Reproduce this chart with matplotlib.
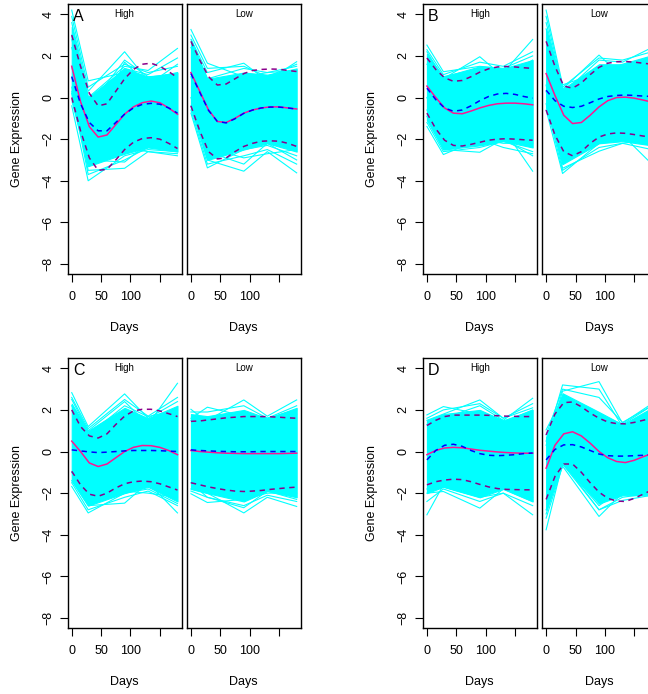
import numpy as np
import matplotlib.pyplot as plt

plt.rcParams['font.family'] = ['Liberation Sans', 'DejaVu Sans']

# sampling days of the gene profiles and days where the smooth curves were read
days = [0, 28, 90, 130, 180]
curve_days = [0, 15, 30, 45, 60, 75, 90, 105, 120, 135, 150, 165, 180]

# ---- panel A ----
a_high_core_hi = [3.4, 0.0, 1.4, 1.0, 1.2]
a_high_core_lo = [-0.2, -3.3, -2.7, -2.4, -2.6]
a_high_lines = [[4.2, 0.8, 1.2, 0.9, 1.2], [3.6, 0.3, 2.2, 0.8, 1.0],
                [3.0, 0.0, 1.5, 1.3, 2.36], [2.8, -0.2, 1.4, 1.1, 1.9],
                [1.5, -2.2, 1.7, 0.6, 1.6], [-0.4, -4.0, -2.8, -2.5, -2.6],
                [0.5, -3.5, -3.4, -2.6, -2.8], [0.2, -3.3, -2.4, -2.6, -2.7],
                [3.9, 0.5, 1.6, 1.2, 1.5], [2.4, -0.5, 1.8, 1.0, 1.1],
                [0.3, -3.7, -3.0, -2.4, -2.5], [1.0, -3.0, -3.1, -2.2, -2.4]]
a_high_mean = [1.5, -0.2, -1.4, -1.9, -1.8, -1.3, -0.8, -0.45, -0.25, -0.17, -0.25, -0.5, -0.8]
a_high_med = [1.0, -0.3, -1.2, -1.6, -1.6, -1.2, -0.8, -0.5, -0.33, -0.28, -0.32, -0.5, -0.75]
a_high_upper = [3.0, 1.5, 0.2, -0.4, -0.3, 0.3, 0.9, 1.35, 1.6, 1.65, 1.5, 1.25, 0.95]
a_high_lower = [0.0, -1.6, -2.9, -3.5, -3.45, -3.0, -2.5, -2.15, -1.97, -1.93, -2.0, -2.2, -2.45]

a_low_core_hi = [2.8, 0.9, 1.2, 1.1, 1.4]
a_low_core_lo = [-0.5, -3.0, -2.5, -2.2, -2.6]
a_low_lines = [[3.27, 1.65, 1.0, 1.2, 1.5], [2.8, 1.2, 1.65, 0.8, 1.72],
               [2.4, 0.9, 1.4, 1.2, 1.3], [-0.75, -3.38, -2.5, -2.3, -2.8],
               [-0.4, -3.0, -3.54, -2.6, -3.62], [0.0, -2.6, -3.2, -2.2, -3.0],
               [1.0, -2.4, -2.9, -2.7, -2.5], [3.0, 1.4, 1.5, 1.0, 1.6],
               [-0.6, -3.2, -2.8, -2.5, -3.2]]
a_low_mean = [1.2, 0.3, -0.6, -1.15, -1.2, -1.0, -0.75, -0.6, -0.5, -0.45, -0.45, -0.5, -0.55]
a_low_med = [1.15, 0.25, -0.62, -1.15, -1.22, -1.02, -0.76, -0.6, -0.5, -0.46, -0.46, -0.5, -0.56]
a_low_upper = [2.7, 1.8, 1.0, 0.6, 0.65, 0.9, 1.15, 1.3, 1.35, 1.37, 1.36, 1.3, 1.25]
a_low_lower = [-0.4, -1.6, -2.6, -2.95, -2.9, -2.6, -2.35, -2.2, -2.1, -2.08, -2.1, -2.2, -2.35]

# ---- panel B ----
b_high_core_hi = [2.1, 1.0, 1.5, 1.4, 1.8]
b_high_core_lo = [-1.1, -2.5, -2.3, -2.1, -2.4]
b_high_lines = [[2.52, 1.24, 1.5, 1.4, 2.0], [2.2, 0.9, 1.96, 1.0, 1.8],
                [1.6, 1.0, 1.4, 1.2, 2.79], [-1.39, -2.74, -2.0, -2.2, -2.2],
                [-0.9, -2.5, -2.63, -2.0, -2.8], [-0.6, -2.0, -2.3, -1.5, -3.54],
                [0.0, -2.3, -2.0, -2.4, -2.7], [2.3, 1.1, 1.7, 1.5, 2.2],
                [-1.2, -2.6, -2.4, -2.1, -2.6]]
b_high_mean = [0.55, 0.0, -0.5, -0.75, -0.78, -0.65, -0.5, -0.38, -0.3, -0.27, -0.27, -0.3, -0.35]
b_high_med = [0.45, -0.1, -0.5, -0.66, -0.6, -0.4, -0.15, 0.05, 0.17, 0.2, 0.15, 0.05, -0.03]
b_high_upper = [1.9, 1.35, 0.95, 0.78, 0.82, 1.0, 1.22, 1.38, 1.47, 1.49, 1.47, 1.43, 1.4]
b_high_lower = [-0.75, -1.5, -2.05, -2.3, -2.33, -2.25, -2.15, -2.05, -2.0, -1.98, -2.0, -2.03, -2.05]

b_low_core_hi = [3.3, 0.4, 1.6, 1.6, 2.0]
b_low_core_lo = [-0.5, -3.2, -2.2, -2.1, -2.3]
b_low_lines = [[4.2, 0.61, 1.2, 1.6, 2.0], [3.6, 0.4, 2.04, 1.0, 1.6],
               [3.3, 0.2, 1.8, 1.7, 2.4], [-0.6, -3.65, -2.2, -2.0, -2.3],
               [0.3, -3.4, -2.58, -2.2, -2.0], [0.6, -3.2, -2.0, -1.8, -3.2],
               [3.9, 0.5, 1.9, 1.8, 2.2], [-0.3, -3.5, -2.4, -2.2, -2.5]]
b_low_mean = [1.15, 0.1, -0.85, -1.25, -1.2, -0.85, -0.45, -0.15, 0.0, 0.02, -0.03, -0.12, -0.22]
b_low_med = [0.35, -0.15, -0.42, -0.48, -0.42, -0.25, -0.07, 0.05, 0.1, 0.12, 0.1, 0.07, 0.05]
b_low_upper = [2.7, 1.5, 0.55, 0.45, 0.7, 1.1, 1.45, 1.65, 1.72, 1.73, 1.7, 1.65, 1.6]
b_low_lower = [-0.6, -1.8, -2.6, -2.8, -2.6, -2.2, -1.9, -1.75, -1.7, -1.72, -1.78, -1.85, -1.9]

# ---- panel C ----
c_high_core_hi = [2.3, 1.0, 2.1, 1.6, 2.2]
c_high_core_lo = [-1.4, -2.6, -2.0, -1.7, -2.4]
c_high_lines = [[2.83, 1.2, 2.77, 1.6, 2.4], [2.5, 1.0, 2.4, 1.3, 3.28],
                [2.2, 0.8, 2.2, 1.68, 2.0], [-1.68, -2.95, -2.0, -1.8, -2.5],
                [-1.4, -2.6, -2.48, -1.5, -2.95], [-1.0, -2.2, -1.9, -2.0, -2.2],
                [2.6, 1.1, 2.5, 1.7, 2.6], [-1.5, -2.8, -2.2, -1.9, -2.6]]
c_high_mean = [0.5, 0.0, -0.55, -0.72, -0.6, -0.3, 0.0, 0.2, 0.29, 0.28, 0.2, 0.05, -0.15]
c_high_med = [0.08, 0.03, -0.02, -0.05, -0.03, 0.0, 0.03, 0.05, 0.05, 0.05, 0.04, 0.02, 0.0]
c_high_upper = [2.0, 1.2, 0.75, 0.65, 0.85, 1.3, 1.7, 1.95, 2.03, 2.03, 1.95, 1.82, 1.68]
c_high_lower = [-0.95, -1.6, -2.05, -2.15, -2.0, -1.75, -1.55, -1.45, -1.42, -1.45, -1.55, -1.7, -1.85]

c_low_core_hi = [1.8, 1.7, 2.0, 1.6, 2.1]
c_low_core_lo = [-1.8, -2.0, -2.4, -1.9, -2.2]
c_low_lines = [[2.03, 1.4, 1.9, 1.3, 1.8], [1.6, 2.13, 1.7, 1.6, 2.0],
               [1.5, 1.5, 2.48, 1.7, 2.48], [-2.03, -2.45, -2.3, -2.0, -2.0],
               [-1.8, -2.0, -2.95, -2.2, -2.64], [-1.5, -2.2, -2.7, -1.9, -2.3],
               [1.9, 1.9, 2.2, 1.6, 2.2], [-1.9, -2.2, -2.6, -2.1, -2.4]]
c_low_mean = [0.05, 0.0, -0.03, -0.06, -0.08, -0.09, -0.1, -0.1, -0.1, -0.1, -0.1, -0.09, -0.08]
c_low_med = [0.08, 0.05, 0.03, 0.01, 0.0, -0.01, -0.01, -0.01, 0.0, 0.0, 0.0, 0.0, 0.0]
c_low_upper = [1.45, 1.47, 1.52, 1.57, 1.62, 1.65, 1.68, 1.68, 1.68, 1.67, 1.65, 1.62, 1.6]
c_low_lower = [-1.5, -1.6, -1.7, -1.78, -1.85, -1.9, -1.92, -1.9, -1.87, -1.82, -1.78, -1.74, -1.71]

# ---- panel D ----
d_high_core_hi = [1.5, 1.8, 2.0, 1.5, 2.0]
d_high_core_lo = [-2.0, -1.7, -2.2, -1.8, -2.4]
d_high_lines = [[1.76, 2.16, 1.8, 1.4, 2.0], [1.5, 1.8, 2.48, 1.6, 2.1],
                [1.3, 1.6, 2.2, 1.5, 2.56], [-3.04, -1.6, -1.9, -1.5, -2.2],
                [-2.0, -1.92, -2.72, -1.8, -2.4], [-1.8, -1.7, -2.2, -2.0, -3.04],
                [1.6, 2.0, 2.3, 1.6, 2.3], [-2.4, -1.8, -2.4, -2.0, -2.6]]
d_high_mean = [-0.15, 0.05, 0.17, 0.2, 0.18, 0.12, 0.06, 0.02, -0.02, -0.05, -0.07, -0.08, -0.08]
d_high_med = [-0.4, 0.05, 0.3, 0.35, 0.25, 0.05, -0.1, -0.18, -0.2, -0.18, -0.15, -0.1, -0.07]
d_high_upper = [1.25, 1.5, 1.68, 1.75, 1.75, 1.75, 1.75, 1.74, 1.72, 1.7, 1.69, 1.68, 1.68]
d_high_lower = [-1.6, -1.45, -1.37, -1.33, -1.35, -1.45, -1.58, -1.7, -1.78, -1.82, -1.83, -1.84, -1.84]

d_low_core_hi = [0.7, 2.8, 1.9, 1.3, 2.1]
d_low_core_lo = [-2.8, -0.6, -2.5, -2.1, -2.1]
d_low_lines = [[1.04, 2.6, 1.8, 1.3, 2.2], [0.5, 3.2, 3.0, 1.2, 2.0],
               [0.3, 2.9, 3.36, 1.36, 2.3], [-3.76, -0.56, -2.6, -1.8, -2.0],
               [-3.2, -0.7, -3.12, -2.0, -1.9], [-2.8, -0.5, -2.8, -2.35, -2.1],
               [0.8, 3.0, 2.6, 1.4, 2.2], [-3.0, -0.6, -2.8, -2.2, -2.0]]
d_low_mean = [-0.8, 0.3, 0.85, 0.95, 0.75, 0.4, 0.0, -0.3, -0.48, -0.53, -0.42, -0.25, -0.1]
d_low_med = [-0.4, 0.1, 0.32, 0.33, 0.22, 0.05, -0.12, -0.2, -0.22, -0.22, -0.2, -0.18, -0.15]
d_low_upper = [0.8, 1.8, 2.35, 2.38, 2.15, 1.85, 1.6, 1.42, 1.34, 1.33, 1.4, 1.5, 1.6]
d_low_lower = [-2.3, -1.2, -0.6, -0.6, -1.0, -1.5, -1.95, -2.25, -2.38, -2.4, -2.25, -2.05, -1.85]

panel_letters = ['A', 'B', 'C', 'D']
group_names = ['High', 'Low']

W, H = 648, 694
fig = plt.figure(figsize=(W / 100, H / 100), dpi=100)


def px_axes(x0, y0, w, h):
    return fig.add_axes([x0 / W, 1 - (y0 + h) / H, w / W, h / H])


def draw_sub(ax, core_hi, core_lo, lines, mean, med, upper, lower):
    ax.fill_between(days, core_lo, core_hi, color='cyan', lw=0.8)
    for ln in lines:
        ax.plot(days, ln, color='cyan', lw=0.8)
    ax.plot(curve_days, mean, color='#ff1493', lw=1.1)
    ax.plot(curve_days, med, color='blue', lw=1.1, dashes=(3.5, 3))
    ax.plot(curve_days, upper, color='#8b008b', lw=1.1, dashes=(3.5, 3))
    ax.plot(curve_days, lower, color='#8b008b', lw=1.1, dashes=(3.5, 3))
    ax.set_xlim(-7.2, 187.2)
    ax.set_ylim(-8.48, 4.48)
    ax.set_xticks([0, 50, 100, 150])
    ax.set_xticklabels(['0', '50', '100', ''])
    ax.tick_params(axis='x', direction='out', length=6, width=0.8, pad=6.5, labelsize=9)
    for s in ax.spines.values():
        s.set_linewidth(1.0)


panels = [
    (a_high_core_hi, a_high_core_lo, a_high_lines, a_high_mean, a_high_med, a_high_upper, a_high_lower,
     a_low_core_hi, a_low_core_lo, a_low_lines, a_low_mean, a_low_med, a_low_upper, a_low_lower),
    (b_high_core_hi, b_high_core_lo, b_high_lines, b_high_mean, b_high_med, b_high_upper, b_high_lower,
     b_low_core_hi, b_low_core_lo, b_low_lines, b_low_mean, b_low_med, b_low_upper, b_low_lower),
    (c_high_core_hi, c_high_core_lo, c_high_lines, c_high_mean, c_high_med, c_high_upper, c_high_lower,
     c_low_core_hi, c_low_core_lo, c_low_lines, c_low_mean, c_low_med, c_low_upper, c_low_lower),
    (d_high_core_hi, d_high_core_lo, d_high_lines, d_high_mean, d_high_med, d_high_upper, d_high_lower,
     d_low_core_hi, d_low_core_lo, d_low_lines, d_low_mean, d_low_med, d_low_upper, d_low_lower),
]

col_x = [67.5, 422.7]
row_y = [4.3, 358.3]
pw, ph, gap = 114.2, 269.7, 5.0

for i, p in enumerate(panels):
    x0 = col_x[i % 2]
    y0 = row_y[i // 2]
    ax_hi = px_axes(x0, y0, pw, ph)
    ax_lo = px_axes(x0 + pw + gap, y0, pw, ph)
    draw_sub(ax_hi, *p[:7])
    draw_sub(ax_lo, *p[7:])

    ax_hi.set_yticks([-8, -6, -4, -2, 0, 2, 4])
    ax_hi.tick_params(axis='y', direction='out', length=6, width=0.8, pad=7.8,
                      labelsize=9, labelrotation=90)
    for lab in ax_hi.get_yticklabels():
        lab.set_ha('center')
        lab.set_va('center')
    ax_lo.set_yticks([])

    # panel letter and group titles
    fig.text((x0 + 5.5) / W, 1 - (y0 + 16.4) / H, panel_letters[i],
             fontsize=11.5, ha='left', va='baseline')
    for k, ax in enumerate([ax_hi, ax_lo]):
        cx = x0 + k * (pw + gap) + pw / 2
        fig.text(cx / W, 1 - (y0 + 12.6) / H, group_names[k],
                 fontsize=7, ha='center', va='baseline')
        fig.text(cx / W, 1 - (y0 + 327.2) / H, 'Days',
                 fontsize=9, ha='center', va='baseline')

    fig.text((x0 - 50.5) / W, 1 - (y0 + ph / 2) / H, 'Gene Expression',
             fontsize=9, rotation=90, ha='center', va='center')

fig.savefig('out.png', dpi=100)
